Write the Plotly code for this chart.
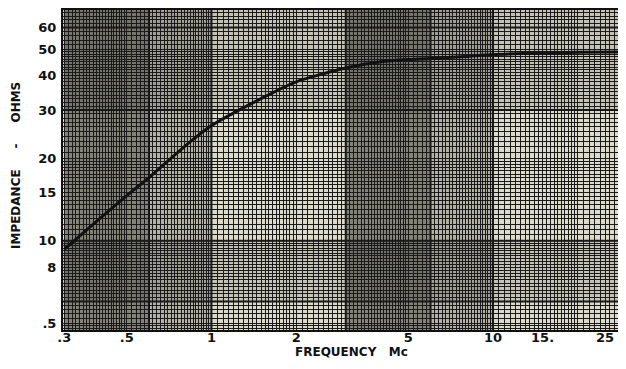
import numpy as np
import plotly.graph_objects as go

# impedance vs frequency
freq_mc = [0.3, 0.4, 0.5, 0.6, 0.8, 1.0, 1.5, 2.0, 3.0, 4.0, 5.0, 6.0, 8.0, 10.0, 15.0, 20.0, 30.0]
impedance = [9.3, 12.0, 14.6, 17.0, 22.0, 26.3, 33.0, 38.0, 42.7, 45.0, 45.8, 46.2, 47.0, 47.8, 48.4, 48.7, 48.8]

x_tickvals = [0.3, 0.5, 1, 2, 5, 10, 15, 25]
x_ticktext = [".3", ".5", "1", "2", "5", "10", "15.", "25"]
y_tickvals = [5, 8, 10, 15, 20, 30, 40, 50, 60]
y_ticktext = [".5", "8", "10", "15", "20", "30", "40", "50", "60"]

_INK = "#111111"
_PAPER = "#dcdacb"
_FONT = dict(family="DejaVu Sans", size=13, color=_INK, weight="bold")
_TITLE_FONT = dict(family="DejaVu Sans", size=12, color=_INK, weight="bold")


def paper_lines(lo, hi):
    """fine log-paper ruling between lo and hi"""
    vals = []
    d = 10.0 ** np.floor(np.log10(lo))
    while d < hi * 10:
        vals += list(np.arange(d, 2 * d, 0.05 * d))
        vals += list(np.arange(2 * d, 5 * d, 0.1 * d))
        vals += list(np.arange(5 * d, 10 * d, 0.2 * d))
        d *= 10
    return [round(v, 6) for v in vals if lo <= v <= hi]


fig = go.Figure()
fig.add_trace(
    go.Scatter(
        x=freq_mc,
        y=impedance,
        mode="lines",
        line=dict(color=_INK, width=3, shape="spline", smoothing=0.6),
        hoverinfo="skip",
    )
)

# darker printed bands of the paper
for x0, x1 in [(0.3, 0.6), (3, 6)]:
    fig.add_vrect(x0=x0, x1=x1, fillcolor="rgba(0,0,0,0.40)", line_width=0, layer="below")
for x0, x1 in [(0.6, 1.0), (6, 10)]:
    fig.add_vrect(x0=x0, x1=x1, fillcolor="rgba(0,0,0,0.18)", line_width=0, layer="below")
fig.add_hrect(y0=30, y1=70, fillcolor="rgba(0,0,0,0.10)", line_width=0, layer="below")
fig.add_hrect(y0=6, y1=10, fillcolor="rgba(0,0,0,0.10)", line_width=0, layer="below")

# heavy rulings
for xv in [0.6, 1, 3, 6, 10]:
    fig.add_vline(x=xv, line_color=_INK, line_width=2, layer="below")
for yv in [6, 10, 30, 60]:
    fig.add_hline(y=yv, line_color=_INK, line_width=2, layer="below")

axis_common = dict(
    type="log",
    showgrid=False,
    ticks="",
    showline=True,
    linecolor=_INK,
    linewidth=2,
    mirror=True,
    tickfont=_FONT,
    zeroline=False,
    automargin=False,
)

fig.update_xaxes(
    **axis_common,
    range=[np.log10(0.297), np.log10(27.8)],
    tickvals=x_tickvals,
    ticktext=x_ticktext,
    ticklabelstandoff=-6,
    minor=dict(tickvals=paper_lines(0.3, 28), showgrid=True, gridcolor="#1a1a1a", gridwidth=1, ticks=""),
)
fig.update_yaxes(
    **axis_common,
    range=[np.log10(4.72), np.log10(69.5)],
    tickvals=y_tickvals,
    ticktext=y_ticktext,
    ticklabelstandoff=2,
    minor=dict(tickvals=paper_lines(4.7, 70), showgrid=True, gridcolor="#1a1a1a", gridwidth=1, ticks=""),
)

# axis titles as annotations so they sit where the original lettering is
fig.add_annotation(
    text="FREQUENCY&nbsp;&nbsp;&nbsp;Mc",
    xref="paper", yref="paper", x=0.52, y=-0.07,
    xanchor="center", yanchor="middle", showarrow=False, font=_TITLE_FONT,
)
fig.add_annotation(
    text="IMPEDANCE&nbsp;&nbsp;&nbsp;&nbsp;&nbsp;-&nbsp;&nbsp;&nbsp;&nbsp;&nbsp;OHMS",
    xref="paper", yref="paper", x=-0.085, y=0.515, textangle=-90,
    xanchor="center", yanchor="middle", showarrow=False, font=_TITLE_FONT,
)

# page body adds 8px round the figure, so it is trimmed to avoid scrollbars
fig.update_layout(
    width=610,
    height=351,
    margin=dict(l=55, r=0, t=2, b=29),
    plot_bgcolor=_PAPER,
    paper_bgcolor="white",
    showlegend=False,
)

fig.write_html("out.html")
